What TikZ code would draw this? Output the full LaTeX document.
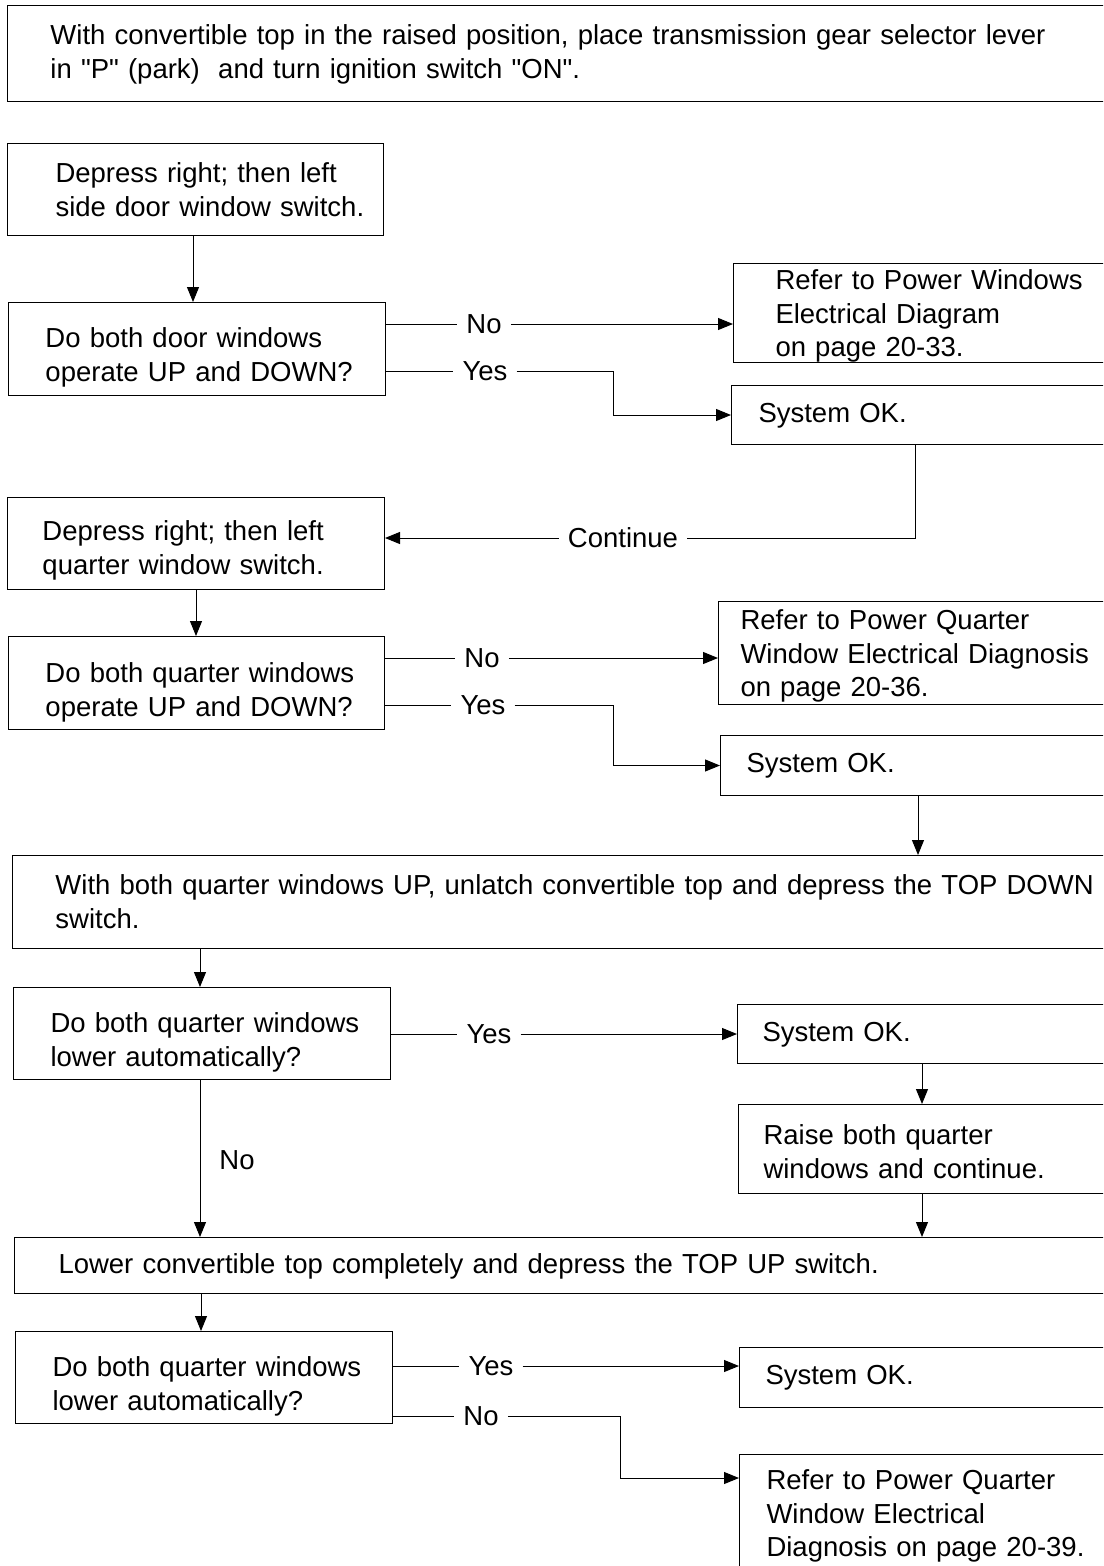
\documentclass[tikz,border=0pt]{standalone}
\usepackage{fontspec}
\setmainfont{Liberation Sans}
\usetikzlibrary{arrows.meta}
\newcommand{\fs}{\fontsize{27.5pt}{33.5pt}\selectfont}
\tikzset{
  box/.style={draw, line width=1pt, anchor=north west, align=left, font=\fs,
    inner xsep=0pt, inner ysep=0pt},
  pad/.style={execute at begin node={\leftskip=#1\relax}},
  vd/.style={text height=20pt, text depth=#1},
  lbl/.style={font=\fs, inner xsep=9pt, inner ysep=0pt},
  ln/.style={line width=1pt},
  arr/.style={line width=1pt, -{Triangle[length=15pt,width=12pt]}},
}
\begin{document}
\begin{tikzpicture}[x=1pt,y=-1pt]
\useasboundingbox (0,0) rectangle (1103,1566);
\clip (0,0) rectangle (1103,1566);
\node[box, minimum height=96pt, text width=1113pt, pad=43pt, vd=38pt] (top) at (7,5)
  {With convertible top in the raised position, place transmission gear selector lever\\in \textquotedbl P\textquotedbl\ (park)\ \ and turn ignition switch \textquotedbl ON\textquotedbl .};
\node[box, minimum height=92pt, text width=376pt, pad=48pt, vd=34pt] (b2) at (7,143)
  {Depress right; then left\\side door window switch.};
\node[box, minimum height=93pt, text width=377pt, pad=37pt, vd=23pt] (b3) at (8,302)
  {Do both door windows\\operate UP and DOWN?};
\node[box, minimum height=99pt, text width=400pt, pad=42pt, vd=67pt] (r1) at (733,263)
  {Refer to Power Windows\\Electrical Diagram\\on page 20-33.};
\node[box, minimum height=59pt, text width=400pt, pad=27pt, vd=5pt] (s1) at (731,385)
  {System OK.};
\node[box, minimum height=92pt, text width=377pt, pad=35pt, vd=26pt] (b4) at (7,497)
  {Depress right; then left\\quarter window switch.};
\node[box, minimum height=93pt, text width=376pt, pad=37pt, vd=21pt] (b5) at (8,636)
  {Do both quarter windows\\operate UP and DOWN?};
\node[box, minimum height=103pt, text width=410pt, pad=22pt, vd=67pt] (r2) at (718,601)
  {Refer to Power Quarter\\Window Electrical Diagnosis\\on page 20-36.};
\node[box, minimum height=60pt, text width=400pt, pad=26pt, vd=6pt] (s2) at (720,735)
  {System OK.};
\node[box, minimum height=93pt, text width=1108pt, pad=43pt, vd=35pt] (b6) at (12,855)
  {With both quarter windows UP, unlatch convertible top and depress the TOP DOWN\\switch.};
\node[box, minimum height=92pt, text width=377pt, pad=37pt, vd=22pt] (b7) at (13,987)
  {Do both quarter windows\\lower automatically?};
\node[box, minimum height=59pt, text width=400pt, pad=25pt, vd=5pt] (s3) at (737,1004)
  {System OK.};
\node[box, minimum height=89pt, text width=400pt, pad=25pt, vd=29pt] (r4) at (738,1104)
  {Raise both quarter\\windows and continue.};
\node[box, minimum height=56pt, text width=1106pt, pad=44pt, vd=5pt] (b8) at (14,1237)
  {Lower convertible top completely and depress the TOP UP switch.};
\node[box, minimum height=92pt, text width=377pt, pad=37pt, vd=22pt] (b9) at (15,1331)
  {Do both quarter windows\\lower automatically?};
\node[box, minimum height=60pt, text width=400pt, pad=26pt, vd=6pt] (s4) at (739,1347)
  {System OK.};
\node[box, text width=400pt, pad=27pt, text height=35pt, text depth=100pt] (r3) at (739,1454)
  {Refer to Power Quarter\\Window Electrical\\Diagnosis on page 20-39.};

% labels
\node[lbl] (no1) at (484,324) {No};
\node[lbl] (yes1) at (485,371) {Yes};
\node[lbl] (cont) at (623,538) {Continue};
\node[lbl] (no2) at (482,658) {No};
\node[lbl] (yes2) at (483,705) {Yes};
\node[lbl] (yes3) at (489,1034) {Yes};
\node[lbl] (no3) at (237,1160) {No};
\node[lbl] (yes4) at (491,1366) {Yes};
\node[lbl] (no4) at (481,1416) {No};

% connectors
\draw[arr] ([xshift=186pt]b2.south west) -- ([xshift=186pt]b2.south west |- b3.north);
\draw[ln] (b3.north east |- no1) -- (no1.west);
\draw[arr] (no1.east) -- (r1.north west |- no1);
\draw[ln] (b3.north east |- yes1) -- (yes1.west);
\draw[arr] (yes1.east) -| ([xshift=-118pt]s1.west) -- (s1.west);
\draw[ln] ([xshift=184pt]s1.south west) |- (cont.east);
\draw[arr] (cont.west) -- (b4.north east |- cont);
\draw[arr] ([xshift=189pt]b4.south west) -- ([xshift=189pt]b4.south west |- b5.north);
\draw[ln] (b5.north east |- no2) -- (no2.west);
\draw[arr] (no2.east) -- (r2.north west |- no2);
\draw[ln] (b5.north east |- yes2) -- (yes2.west);
\draw[arr] (yes2.east) -| ([xshift=-107pt]s2.west) -- (s2.west);
\draw[arr] ([xshift=198pt]s2.south west) -- ([xshift=198pt]s2.south west |- b6.north);
\draw[arr] ([xshift=187pt]b7.north west |- b6.south) -- ([xshift=187pt]b7.north west);
\draw[ln] (b7.north east |- yes3) -- (yes3.west);
\draw[arr] (yes3.east) -- (s3.north west |- yes3);
\draw[arr] ([xshift=185pt]s3.south west) -- ([xshift=185pt]s3.south west |- r4.north);
\draw[arr] ([xshift=184pt]r4.south west) -- ([xshift=184pt]r4.south west |- b8.north);
\draw[arr] ([xshift=187pt]b7.south west) -- ([xshift=187pt]b7.south west |- b8.north);
\draw[arr] ([xshift=186pt]b9.north west |- b8.south) -- ([xshift=186pt]b9.north west);
\draw[ln] (b9.north east |- yes4) -- (yes4.west);
\draw[arr] (yes4.east) -- (s4.north west |- yes4);
\draw[ln] (b9.north east |- no4) -- (no4.west);
\draw[arr] (no4.east) -| ([xshift=-119pt,yshift=-24pt]r3.north west) -- ([yshift=-24pt]r3.north west);
\end{tikzpicture}
\end{document}
